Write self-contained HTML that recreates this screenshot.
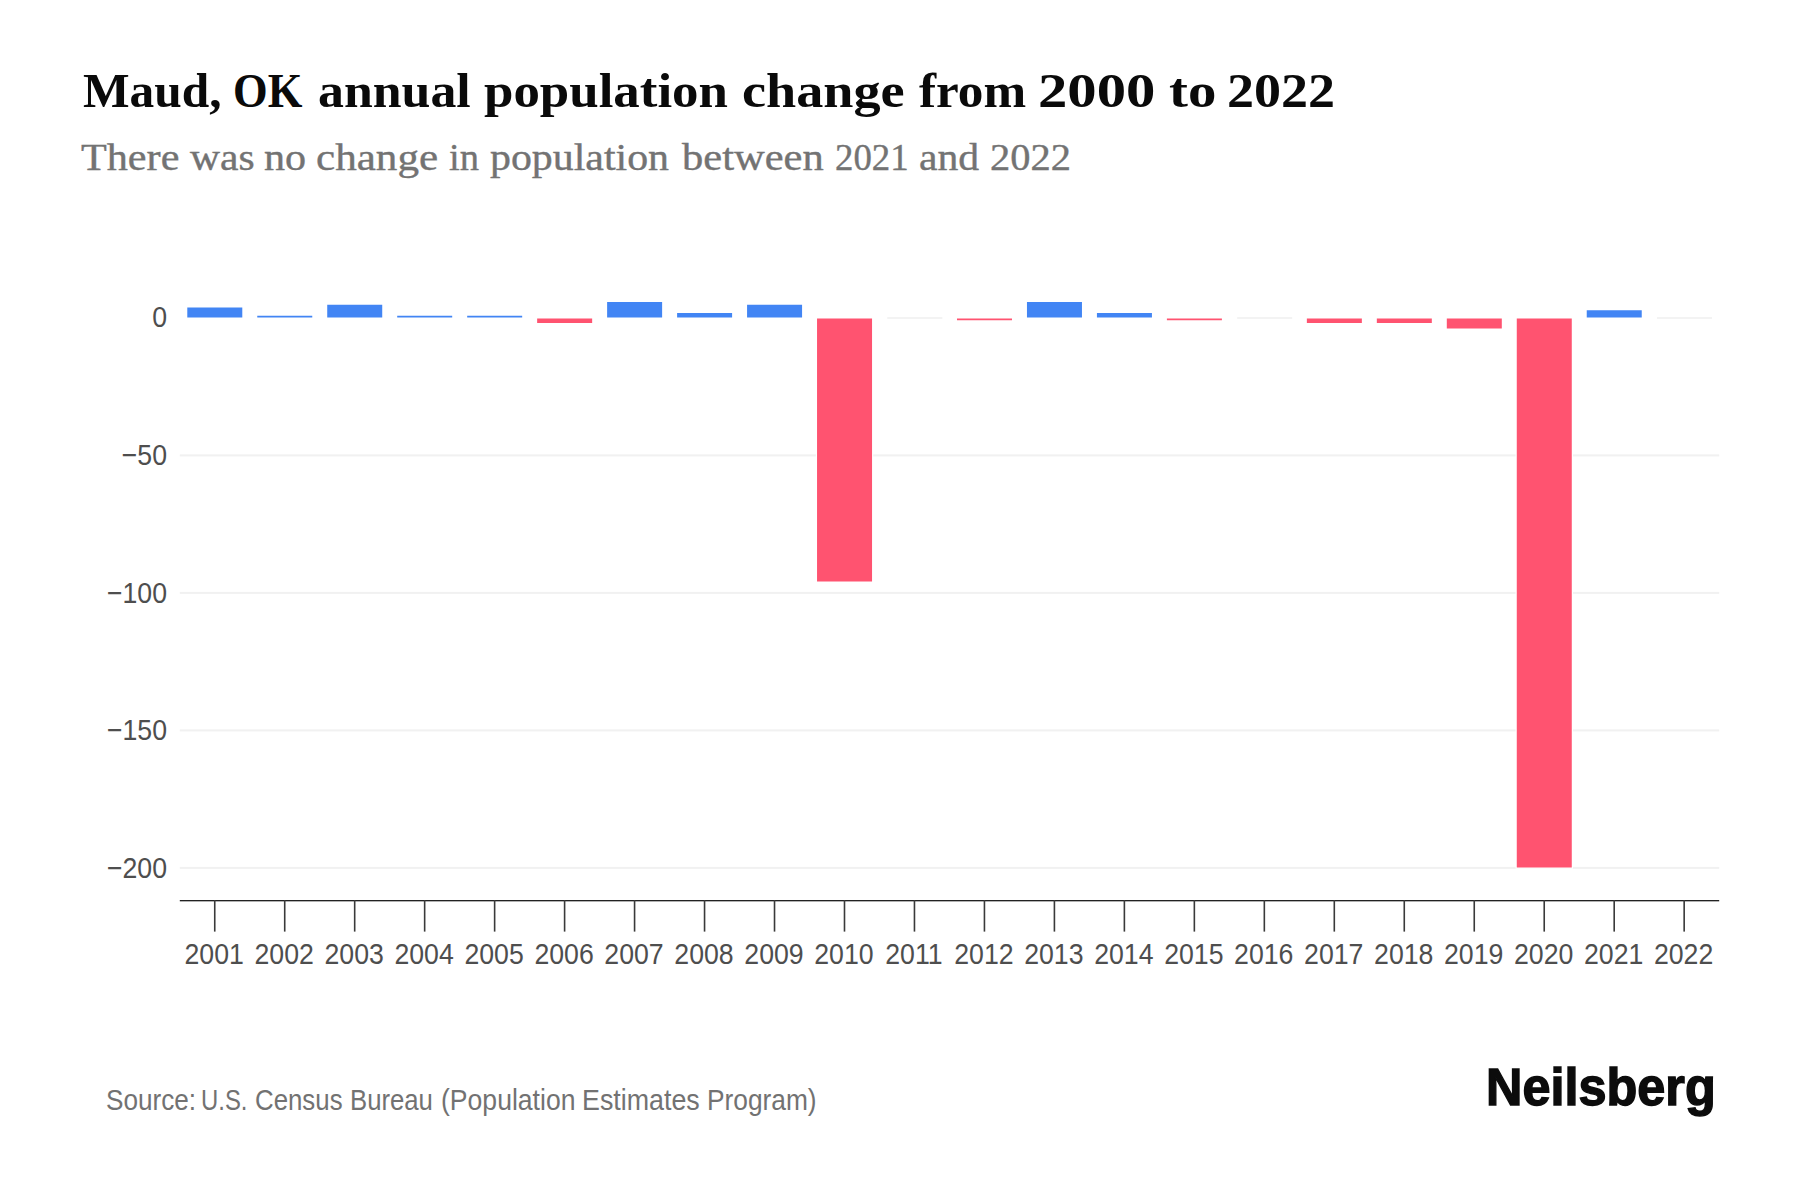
<!DOCTYPE html>
<html lang="en">
<head>
<meta charset="utf-8">
<title>Maud, OK annual population change from 2000 to 2022</title>
<style>
html,body{margin:0;padding:0;background:#fff;}
body{width:1800px;height:1200px;position:relative;overflow:hidden;font-family:"Liberation Sans",sans-serif;}
h1,p{position:absolute;left:0;margin:0;width:1800px;white-space:nowrap;}
h1 span,p span{position:absolute;top:0;transform-origin:0 0;display:block;}
.title{top:61px;height:60px;font-family:"Liberation Serif",serif;font-weight:700;font-size:49px;line-height:60px;color:#0a0a0a;}
.sub{top:134px;height:46px;font-family:"Liberation Serif",serif;font-weight:400;font-size:38px;line-height:46px;color:#737373;-webkit-text-stroke:0.4px #737373;}
svg{position:absolute;left:0;top:0;}
.ax{font-family:"Liberation Sans",sans-serif;font-size:29px;fill:#4e4e4e;}
.src{top:1083px;height:34px;font-size:29px;line-height:34px;color:#727272;}
.logo{top:1058px;height:60px;font-weight:700;font-size:51px;line-height:60px;color:#0c0c0c;-webkit-text-stroke:1.4px #0c0c0c;}
</style>
</head>
<body>
<h1 class="title"><span style="left:82.69px;transform:scaleX(1.0079)">Maud,</span> <span style="left:233.49px;transform:scaleX(0.9096)">OK</span> <span style="left:317.64px;transform:scaleX(1.0578)">annual</span> <span style="left:484.00px;transform:scaleX(1.0793)">population</span> <span style="left:741.88px;transform:scaleX(1.1065)">change</span> <span style="left:918.70px;transform:scaleX(1.0455)">from</span> <span style="left:1038.21px;transform:scaleX(1.1969)">2000</span> <span style="left:1168.69px;transform:scaleX(1.1587)">to</span> <span style="left:1226.89px;transform:scaleX(1.1027)">2022</span></h1>
<p class="sub"><span style="left:81.30px;transform:scaleX(1.1103)">There</span> <span style="left:190.00px;transform:scaleX(1.0927)">was</span> <span style="left:263.97px;transform:scaleX(1.1088)">no</span> <span style="left:316.17px;transform:scaleX(1.1349)">change</span> <span style="left:448.70px;transform:scaleX(1.0150)">in</span> <span style="left:490.00px;transform:scaleX(1.1013)">population</span> <span style="left:682.30px;transform:scaleX(1.1193)">between</span> <span style="left:835.03px;transform:scaleX(0.9687)">2021</span> <span style="left:918.90px;transform:scaleX(1.0953)">and</span> <span style="left:990.24px;transform:scaleX(1.0646)">2022</span></p>
<svg width="1800" height="1200" viewBox="0 0 1800 1200">
<rect x="179.8" y="454.40" width="1539.4" height="2" fill="#f1f1f1"/>
<rect x="179.8" y="591.90" width="1539.4" height="2" fill="#f1f1f1"/>
<rect x="179.8" y="729.40" width="1539.4" height="2" fill="#f1f1f1"/>
<rect x="179.8" y="866.90" width="1539.4" height="2" fill="#f1f1f1"/>
<rect x="187.29" y="307.50" width="55.00" height="10.00" fill="#4285f4"/>
<rect x="257.26" y="315.75" width="55.00" height="1.75" fill="#4285f4"/>
<rect x="327.23" y="304.75" width="55.00" height="12.75" fill="#4285f4"/>
<rect x="397.20" y="315.75" width="55.00" height="1.75" fill="#4285f4"/>
<rect x="467.18" y="315.75" width="55.00" height="1.75" fill="#4285f4"/>
<rect x="537.15" y="318.50" width="55.00" height="4.50" fill="#ff5370"/>
<rect x="607.12" y="302.00" width="55.00" height="15.50" fill="#4285f4"/>
<rect x="677.10" y="313.00" width="55.00" height="4.50" fill="#4285f4"/>
<rect x="747.07" y="304.75" width="55.00" height="12.75" fill="#4285f4"/>
<rect x="815.84" y="318.00" width="57.40" height="264.70" fill="#fff"/>
<rect x="817.04" y="318.50" width="55.00" height="263.00" fill="#ff5370"/>
<rect x="887.31" y="317.00" width="55.00" height="2" fill="#f3f3f3"/>
<rect x="956.99" y="318.50" width="55.00" height="1.75" fill="#ff5370"/>
<rect x="1026.96" y="302.00" width="55.00" height="15.50" fill="#4285f4"/>
<rect x="1096.93" y="313.00" width="55.00" height="4.50" fill="#4285f4"/>
<rect x="1166.90" y="318.50" width="55.00" height="1.75" fill="#ff5370"/>
<rect x="1237.18" y="317.00" width="55.00" height="2" fill="#f3f3f3"/>
<rect x="1306.85" y="318.50" width="55.00" height="4.50" fill="#ff5370"/>
<rect x="1376.82" y="318.50" width="55.00" height="4.50" fill="#ff5370"/>
<rect x="1446.80" y="318.50" width="55.00" height="10.00" fill="#ff5370"/>
<rect x="1515.57" y="318.00" width="57.40" height="550.70" fill="#fff"/>
<rect x="1516.77" y="318.50" width="55.00" height="549.00" fill="#ff5370"/>
<rect x="1586.74" y="310.25" width="55.00" height="7.25" fill="#4285f4"/>
<rect x="1657.01" y="317.00" width="55.00" height="2" fill="#f3f3f3"/>
<rect x="179.8" y="900" width="1539.4" height="1.35" fill="#222"/>
<rect x="213.94" y="900" width="1.6" height="31.6" fill="#3a3a3a"/>
<rect x="283.91" y="900" width="1.6" height="31.6" fill="#3a3a3a"/>
<rect x="353.88" y="900" width="1.6" height="31.6" fill="#3a3a3a"/>
<rect x="423.85" y="900" width="1.6" height="31.6" fill="#3a3a3a"/>
<rect x="493.83" y="900" width="1.6" height="31.6" fill="#3a3a3a"/>
<rect x="563.80" y="900" width="1.6" height="31.6" fill="#3a3a3a"/>
<rect x="633.77" y="900" width="1.6" height="31.6" fill="#3a3a3a"/>
<rect x="703.75" y="900" width="1.6" height="31.6" fill="#3a3a3a"/>
<rect x="773.72" y="900" width="1.6" height="31.6" fill="#3a3a3a"/>
<rect x="843.69" y="900" width="1.6" height="31.6" fill="#3a3a3a"/>
<rect x="913.66" y="900" width="1.6" height="31.6" fill="#3a3a3a"/>
<rect x="983.64" y="900" width="1.6" height="31.6" fill="#3a3a3a"/>
<rect x="1053.61" y="900" width="1.6" height="31.6" fill="#3a3a3a"/>
<rect x="1123.58" y="900" width="1.6" height="31.6" fill="#3a3a3a"/>
<rect x="1193.55" y="900" width="1.6" height="31.6" fill="#3a3a3a"/>
<rect x="1263.53" y="900" width="1.6" height="31.6" fill="#3a3a3a"/>
<rect x="1333.50" y="900" width="1.6" height="31.6" fill="#3a3a3a"/>
<rect x="1403.47" y="900" width="1.6" height="31.6" fill="#3a3a3a"/>
<rect x="1473.45" y="900" width="1.6" height="31.6" fill="#3a3a3a"/>
<rect x="1543.42" y="900" width="1.6" height="31.6" fill="#3a3a3a"/>
<rect x="1613.39" y="900" width="1.6" height="31.6" fill="#3a3a3a"/>
<rect x="1683.36" y="900" width="1.6" height="31.6" fill="#3a3a3a"/>
<text class="ax" transform="translate(167.0,327.00) scale(0.92,1)" text-anchor="end">0</text>
<text class="ax" transform="translate(167.0,464.80) scale(0.92,1)" text-anchor="end">−50</text>
<text class="ax" transform="translate(167.0,602.60) scale(0.92,1)" text-anchor="end">−100</text>
<text class="ax" transform="translate(167.0,740.40) scale(0.92,1)" text-anchor="end">−150</text>
<text class="ax" transform="translate(167.0,878.20) scale(0.92,1)" text-anchor="end">−200</text>
<text class="ax" transform="translate(214.19,964.3) scale(0.92,1)" text-anchor="middle">2001</text>
<text class="ax" transform="translate(284.16,964.3) scale(0.92,1)" text-anchor="middle">2002</text>
<text class="ax" transform="translate(354.13,964.3) scale(0.92,1)" text-anchor="middle">2003</text>
<text class="ax" transform="translate(424.10,964.3) scale(0.92,1)" text-anchor="middle">2004</text>
<text class="ax" transform="translate(494.08,964.3) scale(0.92,1)" text-anchor="middle">2005</text>
<text class="ax" transform="translate(564.05,964.3) scale(0.92,1)" text-anchor="middle">2006</text>
<text class="ax" transform="translate(634.02,964.3) scale(0.92,1)" text-anchor="middle">2007</text>
<text class="ax" transform="translate(704.00,964.3) scale(0.92,1)" text-anchor="middle">2008</text>
<text class="ax" transform="translate(773.97,964.3) scale(0.92,1)" text-anchor="middle">2009</text>
<text class="ax" transform="translate(843.94,964.3) scale(0.92,1)" text-anchor="middle">2010</text>
<text class="ax" transform="translate(913.91,964.3) scale(0.92,1)" text-anchor="middle">2011</text>
<text class="ax" transform="translate(983.89,964.3) scale(0.92,1)" text-anchor="middle">2012</text>
<text class="ax" transform="translate(1053.86,964.3) scale(0.92,1)" text-anchor="middle">2013</text>
<text class="ax" transform="translate(1123.83,964.3) scale(0.92,1)" text-anchor="middle">2014</text>
<text class="ax" transform="translate(1193.80,964.3) scale(0.92,1)" text-anchor="middle">2015</text>
<text class="ax" transform="translate(1263.78,964.3) scale(0.92,1)" text-anchor="middle">2016</text>
<text class="ax" transform="translate(1333.75,964.3) scale(0.92,1)" text-anchor="middle">2017</text>
<text class="ax" transform="translate(1403.72,964.3) scale(0.92,1)" text-anchor="middle">2018</text>
<text class="ax" transform="translate(1473.70,964.3) scale(0.92,1)" text-anchor="middle">2019</text>
<text class="ax" transform="translate(1543.67,964.3) scale(0.92,1)" text-anchor="middle">2020</text>
<text class="ax" transform="translate(1613.64,964.3) scale(0.92,1)" text-anchor="middle">2021</text>
<text class="ax" transform="translate(1683.61,964.3) scale(0.92,1)" text-anchor="middle">2022</text>
</svg>
<p class="src"><span style="left:105.90px;transform:scaleX(0.9012)">Source:</span> <span style="left:201.14px;transform:scaleX(0.8236)">U.S.</span> <span style="left:254.70px;transform:scaleX(0.8903)">Census</span> <span style="left:349.52px;transform:scaleX(0.8864)">Bureau</span> <span style="left:441.28px;transform:scaleX(0.9165)">(Population</span> <span style="left:581.67px;transform:scaleX(0.9246)">Estimates</span> <span style="left:707.28px;transform:scaleX(0.9071)">Program)</span></p>
<p class="logo"><span style="left:1486.03px;transform:scaleX(0.9887)">Neilsberg</span></p>
</body>
</html>
